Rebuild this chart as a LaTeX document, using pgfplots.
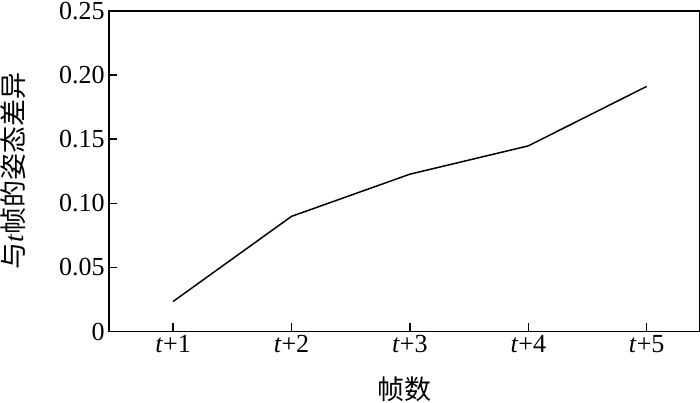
\documentclass[border=0pt]{standalone}
\usepackage{fontspec}
\setmainfont{Liberation Serif}
\newfontfamily\cjk{Noto Sans CJK SC}
\usepackage{pgfplots}
\pgfplotsset{compat=1.18}
\begin{document}
\begin{tikzpicture}
\useasboundingbox (-109pt,-71pt) rectangle (590pt,331pt);
\begin{axis}[
  scale only axis,
  width=590pt, height=320pt,
  xmin=0.46, xmax=5.45,
  ymin=0, ymax=0.25,
  xtick={1,2,3,4,5},
  xticklabels={\textit{t}+1,\textit{t}+2,\textit{t}+3,\textit{t}+4,\textit{t}+5},
  ytick={0,0.05,0.10,0.15,0.20,0.25},
  yticklabels={0,0.05,0.10,0.15,0.20,0.25},
  xtick pos=bottom, ytick pos=left,
  tick align=inside,
  major tick length=8pt,
  axis line style={line width=1.5pt},
  tick style={line width=1.5pt, black},
  /pgf/number format/assume math mode=true,
  tick label style={font=\fontsize{26}{30}\selectfont},
  yticklabel style={xshift=-1pt},
  label style={font=\fontsize{27}{31}\selectfont},
  xlabel={{\cjk 帧数}},
  ylabel={{\cjk 与}\textit{t}{\cjk 帧的姿态差异}},
  xlabel style={at={(axis description cs:0.5,0)}, anchor=north, yshift=-42pt},
  ylabel style={at={(axis description cs:0,0.5)}, anchor=south, yshift=80pt},
]
\addplot[black, line width=1.5pt] coordinates {
  (1,0.0234) (2,0.0898) (3,0.1227) (4,0.1448) (5,0.1912)
};
\end{axis}
\end{tikzpicture}
\end{document}
